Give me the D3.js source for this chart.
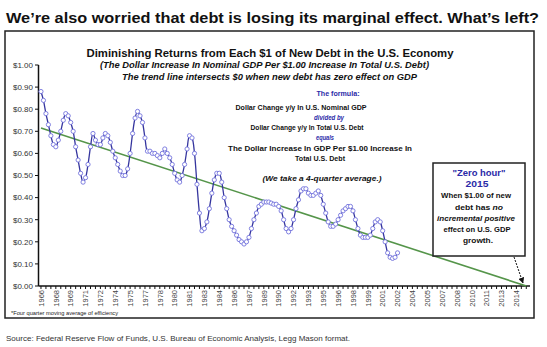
<!DOCTYPE html>
<html><head><meta charset="utf-8">
<script src="https://cdn.jsdelivr.net/npm/d3@7"></script>
<style>html,body{margin:0;padding:0;background:#fff;}svg{display:block;}</style>
</head><body>
<script>
// ---- data ----
const xLabels = ["1966","1968","1969","1971","1972","1974","1975","1977","1978","1980","1981","1983","1984","1986","1987","1989","1990","1992","1993","1995","1996","1998","1999","2001","2002","2004","2005","2007","2008","2010","2011","2013","2014"];
const yTicks = [0,0.1,0.2,0.3,0.4,0.5,0.6,0.7,0.8,0.9,1.0];
// quarterly values (4-quarter moving average), starting 1966
const efficiency = [
0.88,0.84,0.78,0.73,0.68,0.64,0.63,0.66,0.70,0.75,
0.78,0.77,0.74,0.70,0.63,0.57,0.51,0.47,0.49,0.55,
0.63,0.69,0.66,0.64,0.64,0.67,0.69,0.68,0.65,0.61,
0.58,0.55,0.52,0.50,0.50,0.53,0.60,0.69,0.76,0.79,
0.77,0.74,0.67,0.61,0.61,0.60,0.60,0.59,0.58,0.60,
0.62,0.60,0.58,0.55,0.51,0.48,0.47,0.50,0.55,0.62,
0.68,0.67,0.60,0.46,0.33,0.25,0.26,0.29,0.35,0.42,
0.48,0.51,0.51,0.47,0.40,0.35,0.30,0.27,0.25,0.23,
0.21,0.20,0.19,0.20,0.22,0.26,0.30,0.33,0.36,0.37,
0.38,0.38,0.38,0.375,0.37,0.37,0.36,0.34,0.30,0.26,
0.245,0.26,0.30,0.35,0.39,0.43,0.44,0.44,0.42,0.41,
0.41,0.42,0.43,0.41,0.37,0.33,0.29,0.27,0.27,0.28,
0.30,0.32,0.34,0.35,0.36,0.36,0.34,0.30,0.26,0.23,
0.22,0.22,0.22,0.23,0.26,0.29,0.30,0.29,0.25,0.20,
0.15,0.13,0.125,0.13,0.15];
const trendIndex = [0, 196];
const trendValue = [0.715, 0];

const W = 547, H = 347;
const svg = d3.select("body").append("svg").attr("width", W).attr("height", H)
  .style("font-family", "'Liberation Sans', Arial, sans-serif");

const x = d3.scaleLinear().domain([-1, 197.5]).range([38.5, 530]);
const y = d3.scaleLinear().domain([0, 1]).range([286, 65]);

// text helper (yc = vertical centre of caps)
function txt(xp, yc, s, size, opts = {}) {
  const t = svg.append("text")
    .attr("x", xp).attr("y", yc + size * 0.36)
    .attr("font-size", size)
    .attr("font-weight", opts.weight || "bold")
    .attr("font-style", opts.style || "normal")
    .attr("fill", opts.color || "#111")
    .attr("text-anchor", opts.anchor || "middle")
    .text(s);
  if (opts.width) t.attr("textLength", opts.width).attr("lengthAdjust", "spacingAndGlyphs");
  return t;
}

// headline
txt(6, 18, "We\u2019re also worried that debt is losing its marginal effect. What\u2019s left?", 15, {anchor: "start", width: 533, color: "#111"});

// frame
svg.append("rect").attr("x", 5).attr("y", 31).attr("width", 529).attr("height", 287)
  .attr("fill", "#fff").attr("stroke", "#222").attr("stroke-width", 1.5);

// chart titles
txt(270, 53, "Diminishing Returns from Each $1 of New Debt in the U.S. Economy", 11, {width: 367});
txt(264.5, 65, "(The Dollar Increase In Nominal GDP Per $1.00 Increase In Total U.S. Debt)", 9, {style: "italic", width: 329});
txt(269.5, 77, "The trend line intersects $0 when new debt has zero effect on GDP", 9, {style: "italic", width: 295});

// formula block
const blue = "#2a2aa8";
txt(338, 93, "The formula:", 7.5, {color: blue, width: 43});
txt(301, 107, "Dollar Change y/y In U.S. Nominal GDP", 7.5, {width: 131});
txt(329, 117, "divided by", 7.5, {color: blue, style: "italic", width: 30});
txt(307, 127, "Dollar Change y/y In Total U.S. Debt", 7.5, {width: 113});
txt(325, 137, "equals", 7.5, {color: blue, style: "italic", width: 18});
txt(320, 148, "The Dollar Increase In GDP Per $1.00 Increase In", 7.5, {width: 184});
txt(320, 158, "Total U.S. Debt", 7.5, {width: 50});
txt(322, 178, "(We take a 4-quarter average.)", 7.5, {style: "italic", width: 119});

// axes
const g = svg.append("g");
g.append("line").attr("x1", 38.5).attr("x2", 38.5).attr("y1", y(1)).attr("y2", y(0)).attr("stroke", "#111").attr("stroke-width", 1.5);
yTicks.forEach(v => {
  g.append("line").attr("x1", 35).attr("x2", 38.5).attr("y1", y(v)).attr("y2", y(v)).attr("stroke", "#111");
  g.append("text").attr("x", 33).attr("y", y(v) + 2.8).attr("text-anchor", "end")
    .attr("font-size", 8).attr("fill", "#333").text("$" + v.toFixed(2));
});
g.append("line").attr("x1", 38.5).attr("x2", 530).attr("y1", y(0)).attr("y2", y(0)).attr("stroke", "#111").attr("stroke-width", 1.5);
for (let i = 0; i <= 196; i += 2) {
  g.append("line").attr("x1", x(i)).attr("x2", x(i)).attr("y1", y(0)).attr("y2", y(0) + 3).attr("stroke", "#111");
}
xLabels.forEach((lab, k) => {
  const xp = x(k * 6);
  g.append("text").attr("transform", `translate(${xp + 2.8},${y(0) + 4}) rotate(-90)`)
    .attr("text-anchor", "end").attr("font-size", 7.5).attr("fill", "#444").text(lab);
});

// trend line
svg.append("line")
  .attr("x1", x(trendIndex[0])).attr("y1", y(trendValue[0]))
  .attr("x2", x(trendIndex[1])).attr("y2", y(trendValue[1]))
  .attr("stroke", "#55954a").attr("stroke-width", 1.6);

// data line
const line = d3.line().x((d, i) => x(i)).y(d => y(d)).curve(d3.curveCatmullRom);
svg.append("path").datum(efficiency).attr("d", line)
  .attr("fill", "none").attr("stroke", "#35359e").attr("stroke-width", 1.3);
svg.append("g").selectAll("circle").data(efficiency).join("circle")
  .attr("cx", (d, i) => x(i)).attr("cy", d => y(d)).attr("r", 2.1)
  .attr("fill", "#fff").attr("stroke", "#7373dc").attr("stroke-width", 0.9);

// zero hour box
svg.append("rect").attr("x", 433).attr("y", 163).attr("width", 92).attr("height", 93)
  .attr("fill", "#fff").attr("stroke", "#222").attr("stroke-width", 1.5);
txt(479, 173, "\"Zero hour\"", 9.5, {color: blue, width: 53});
txt(477, 184, "2015", 9.5, {color: blue, width: 23});
txt(476, 195, "When $1.00 of new", 8, {width: 70});
const t2 = svg.append("text").attr("x", 479).attr("y", 207 + 2.9).attr("text-anchor", "middle")
  .attr("font-size", 8).attr("font-weight", "bold").attr("fill", "#111")
  .attr("textLength", 48).attr("lengthAdjust", "spacingAndGlyphs");
t2.append("tspan").text("debt has ");
t2.append("tspan").attr("font-style", "italic").text("no");
txt(476, 218, "incremental positive", 8, {style: "italic", width: 78});
txt(477, 229, "effect on U.S. GDP", 8, {width: 67});
txt(478, 240, "growth.", 8, {width: 30});

// arrow
const defs = svg.append("defs");
defs.append("marker").attr("id", "ah").attr("viewBox", "0 0 10 10").attr("refX", 9).attr("refY", 5)
  .attr("markerWidth", 6).attr("markerHeight", 6).attr("orient", "auto")
  .append("path").attr("d", "M0,0L10,5L0,10z").attr("fill", "#111");
svg.append("line").attr("x1", 514).attr("y1", 257).attr("x2", 523).attr("y2", 283)
  .attr("stroke", "#111").attr("stroke-width", 1).attr("stroke-dasharray", "2,1.2")
  .attr("marker-end", "url(#ah)");

// footnote & source
txt(11, 313, "*Four quarter moving average of efficiency", 5, {anchor: "start", weight: "normal", width: 107, color: "#222"});
txt(6, 338, "Source: Federal Reserve Flow of Funds, U.S. Bureau of Economic Analysis, Legg Mason format.", 7.5, {anchor: "start", weight: "normal", width: 344, color: "#333"});
</script>
</body></html>
